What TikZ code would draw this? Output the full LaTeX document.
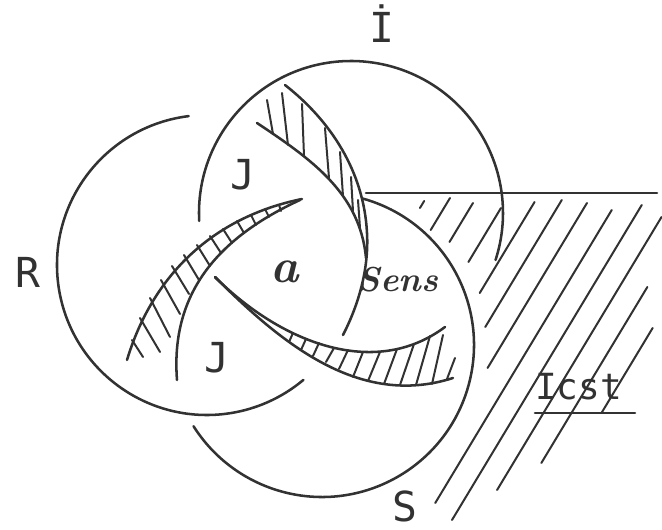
\documentclass[tikz,border=0pt]{standalone}
\usepackage{fontspec}
\newfontfamily\lettering{DejaVu Sans Mono}
\definecolor{ink}{RGB}{50,50,50}

\begin{document}
\begin{tikzpicture}[x=0.75pt,y=0.75pt,yscale=-1,xscale=1,
  ring/.style={draw=ink,line width=1.9pt,line cap=round},
  hatch/.style={draw=ink,line width=1.5pt,line cap=round},
  lett/.style={text=ink,inner sep=0pt,anchor=base,font=\lettering\fontsize{31}{31}\selectfont},
  hand/.style={text=ink,inner sep=0pt,anchor=base,font=\bfseries\itshape\fontsize{26}{26}\selectfont}]
\useasboundingbox (0,0) rectangle (662,530);

%centres of the rings
\coordinate (cI) at (351,213);
\coordinate (cR) at (207,265);
\coordinate (cS) at (322,345);
\coordinate (edgeL) at (366,193);
\coordinate (edgeR) at (657,193);

%Ring I
\draw [ring] (cI) ++(177:152) arc [start angle=177, end angle=378, radius=152];
%Ring R
\draw [ring] (cR) ++(263:150) arc [start angle=263, end angle=50, radius=150];
%Ring S
\draw [ring] (cS) ++(285.5:152) arc [start angle=285.5, end angle=507.7, radius=152];
%Straight Lines: upper edge of the hatched field
\draw [ring] (edgeL) -- (edgeR);

%Curve Lines: crescent in I
\draw [ring] (285,85) .. controls (331,121) and (364,172) .. (367,233) .. controls (369,268) and (359,304) .. (343,335);
\draw [ring] (257,123) .. controls (311,159) and (360,193) .. (366,258);
\foreach \xa/\ya/\xb/\yb in {267/100/273/134, 282/93/288/145, 302/104/304/156,
    325/128/329/178, 340/152/343/196, 351/177/353/211, 358/200/360/228}
  \draw [hatch] (\xa,\ya) -- (\xb,\yb);

%Curve Lines: crescent in R
\draw [ring] (127,360) .. controls (153,274) and (214,217) .. (302,199);
\draw [ring] (177,380) .. controls (170,290) and (222,236) .. (300,200);
\foreach \xa/\ya/\xb/\yb in {132/340/143/357, 140/318/160/352, 150/298/170/337,
    161/280/180/314, 172/266/189/294, 184/255/199/280, 197/245/210/266,
    210/236/221/253, 223/229/232/243, 237/221/244/233, 251/215/256/225,
    265/209/269/217, 279/205/281/211}
  \draw [hatch] (\xa,\ya) -- (\xb,\yb);

%Curve Lines: crescent in S
\draw [ring] (215,277) .. controls (282,344) and (360,408) .. (453,378);
\draw [ring] (215,277) .. controls (280,342) and (374,380) .. (445,327);
\foreach \xa/\ya/\xb/\yb in {289/342/293/333, 301/350/306/339, 313/356/319/343,
    326/362/334/348, 339/369/348/350, 353/377/363/352, 368/381/380/352,
    384/384/397/349, 400/385/414/344, 416/385/430/336, 432/384/443/335,
    447/379/455/358}
  \draw [hatch] (\xa,\ya) -- (\xb,\yb);

%hatched field on the right
\foreach \xo/\yb/\yt in {429/208/201, 453/230/198, 479/242/203, 510/262/208,
    540/293/202, 566/327/200, 593/368/203, 622/503/210, 649/520/205,
    676/490/217, 704/463/287, 734/413/328}
  \draw [hatch] ({\xo-(\yb-193)/1.66},\yb) -- ({\xo-(\yt-193)/1.66},\yt);

% Text Node
\node [lett] (lI) at (382,43) {İ};
% Text Node
\node [lett] (lR) at (28,288) {R};
% Text Node
\node [lett] (lS) at (405,522) {S};
% Text Node
\node [lett] (lJa) at (243,190) {J};
% Text Node
\node [lett] (lJb) at (217,373) {J};
% Text Node
\node [hand,font=\bfseries\itshape\fontsize{36}{36}\selectfont] (la) at (285,283) {a};
% Text Node
\node [hand] (lsens) at (398,292) {Sens};
% Text Node
\node [lett,anchor=base west,font=\lettering\fontsize{27}{27}\selectfont] (licst) at (535,400) {Icst};
\draw [ring] (licst.base west) ++(0,13) -- ++(100,0);

\end{tikzpicture}
\end{document}
